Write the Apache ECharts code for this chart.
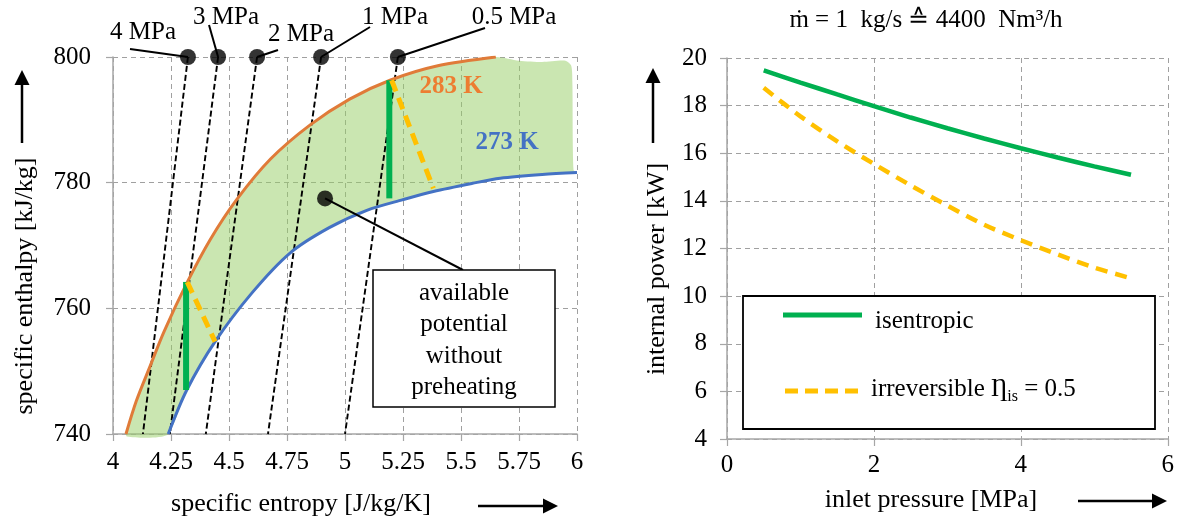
<!DOCTYPE html>
<html><head><meta charset="utf-8">
<script src="https://cdn.jsdelivr.net/npm/echarts@6/dist/echarts.min.js"></script>
<style>html,body{margin:0;padding:0;background:#fff}#c{width:1177px;height:523px}</style>
</head><body><div id="c"></div>
<script>
const FONT = '"Liberation Serif","Times New Roman",serif';

// ---------- left chart: h-s diagram ----------
const curve283 = [[4.056,740],[4.10,745.2],[4.16,750.8],[4.22,756.3],[4.318,764.0],[4.42,771.0],[4.533,777.3],[4.68,783.8],[4.85,789.2],[5.02,793.3],[5.194,796.3],[5.40,798.6],[5.65,800]];
const curve273 = [[4.238,740],[4.318,747.0],[4.44,754.7],[4.60,762.5],[4.763,768.8],[4.93,772.8],[5.094,775.6],[5.25,777.3],[5.381,778.6],[5.55,779.9],[5.669,780.7],[5.85,781.3],[6.0,781.6]];
const fillTopRight = [[5.75,799.4],[5.85,799.2],[5.95,799.4],[5.975,798.6],[5.98,796],[5.985,782]];
const fillBottomLeft = [[4.15,739.4],[4.06,739.6]];
const isobarNames = ['4 MPa','3 MPa','2 MPa','1 MPa','0.5 MPa'];
const isobarTopS = [4.323,4.453,4.621,4.897,5.228];
const isobarBottomS = [4.129,4.245,4.400,4.668,5.000];
const isobarTopH = 800, isobarBottomH = 740;
const isentropicLow = [[4.315,764.2],[4.315,747.0]];
const isentropicHigh = [[5.191,796.3],[5.191,777.5]];
const irreversibleLow = [[4.320,764.2],[4.440,754.7]];
const irreversibleHigh = [[5.201,796.3],[5.381,779.1]];
const potentialDot = [4.914,777.5];
const potentialText = ['available','potential','without','preheating'];

// ---------- right chart: power vs pressure ----------
const inletPressure = [0.5,1,1.5,2,2.5,3,3.5,4,4.5,5,5.5];
const powerIsentropic = [19.48,18.97,18.47,17.98,17.50,17.05,16.62,16.21,15.82,15.45,15.10];
const powerIrreversible = [18.75,17.55,16.50,15.55,14.65,13.80,13.00,12.35,11.75,11.20,10.75];

const leftX = {min:4,max:6,interval:0.25};
const leftY = {min:740,max:800,interval:20};
const rightX = {min:0,max:6,interval:2};
const rightY = {min:4,max:20,interval:2};

const GREEN = '#00B050', YELLOW = '#FFC000', ORANGE = '#E07B39', BLUE = '#4472C4';

function axisCommon(lblMargin){
  return {
    axisLine:{show:true,onZero:false,lineStyle:{color:'#A6A6A6',width:1.5}},
    axisTick:{show:true,length:7,lineStyle:{color:'#A6A6A6',width:1.2}},
    splitLine:{show:true,lineStyle:{color:'#A0A0A0',type:[5,4],width:1}},
    axisLabel:{color:'#000',fontFamily:FONT,fontSize:25,margin:lblMargin}
  };
}

const chart = echarts.init(document.getElementById('c'),null,{renderer:'canvas'});

const series = [];
// fill polygon
series.push({
  type:'custom', xAxisIndex:0, yAxisIndex:0, data:[0], z:1, silent:true,
  renderItem:(params, api) => {
    const poly = [...curve283, ...fillTopRight, ...curve273.slice().reverse(), ...fillBottomLeft];
    return {type:'polygon', shape:{points: poly.map(p => api.coord(p)), smooth:0.25},
            style:{fill:'rgba(150,205,100,0.5)'}};
  }
});
// isobars
isobarNames.forEach((n,i)=>{
  series.push({type:'line', xAxisIndex:0, yAxisIndex:0, z:3, symbol:'none', silent:true,
    data:[[isobarTopS[i],isobarTopH],[isobarBottomS[i],isobarBottomH]],
    lineStyle:{color:'#000',width:1.9,type:[6,3]}});
});
series.push({type:'line', name:'283 K', xAxisIndex:0, yAxisIndex:0, z:4, symbol:'none', smooth:0.3, data:curve283, lineStyle:{color:ORANGE,width:3}});
series.push({type:'line', name:'273 K', xAxisIndex:0, yAxisIndex:0, z:4, symbol:'none', smooth:0.3, data:curve273, lineStyle:{color:BLUE,width:3}});
[isentropicLow, isentropicHigh].forEach(d=>series.push({type:'line', xAxisIndex:0, yAxisIndex:0, z:5, symbol:'none', data:d, lineStyle:{color:GREEN,width:6}}));
[irreversibleLow, irreversibleHigh].forEach(d=>series.push({type:'line', xAxisIndex:0, yAxisIndex:0, z:5, symbol:'none', data:d, lineStyle:{color:YELLOW,width:5,type:[12,7]}}));
series.push({type:'scatter', xAxisIndex:0, yAxisIndex:0, z:8, clip:false, symbolSize:16, itemStyle:{color:'#000'},
  data:[...isobarTopS.map(s=>[s,isobarTopH]), potentialDot]});
// right chart
series.push({type:'line', name:'isentropic', xAxisIndex:1, yAxisIndex:1, symbol:'none', smooth:0.3,
  data:inletPressure.map((p,i)=>[p,powerIsentropic[i]]), lineStyle:{color:GREEN,width:4.5}});
series.push({type:'line', name:'irreversible', xAxisIndex:1, yAxisIndex:1, symbol:'none', smooth:0.3,
  data:inletPressure.map((p,i)=>[p,powerIrreversible[i]]), lineStyle:{color:YELLOW,width:4.5,type:[12,8]}});

const option = {
  backgroundColor:'#fff',
  animation:false,
  grid:[
    {left:113, top:57, width:464, height:377},
    {left:727, top:58, width:442, height:381}
  ],
  xAxis:[
    Object.assign({type:'value', gridIndex:0}, leftX, axisCommon(16)),
    Object.assign({type:'value', gridIndex:1}, rightX, axisCommon(14))
  ],
  yAxis:[
    Object.assign({type:'value', gridIndex:0}, leftY, axisCommon(22)),
    Object.assign({type:'value', gridIndex:1}, rightY, axisCommon(20))
  ],
  series
};
chart.setOption(option);

// ---------- annotations ----------
const px = p => chart.convertToPixel({xAxisIndex:0, yAxisIndex:0}, p);
const T = (text, x, y, opt={}) => ({type:'text', x, y, z:20, rotation:opt.rotation||0,
  style:{text, fill:opt.fill||'#000', font:(opt.weight||'normal')+' '+(opt.size||25)+'px '+FONT,
  textAlign:opt.align||'center', textVerticalAlign:'middle', align:opt.align||'center', verticalAlign:'middle'}});
const L = (x1,y1,x2,y2,stroke,w,dash) => ({type:'line', z:15, shape:{x1,y1,x2,y2}, style:{stroke, lineWidth:w, lineDash:dash||null}});
const arrowUp = (x, yTip, yBase) => [L(x,yBase,x,yTip+12,'#000',2.5),
  {type:'polygon', z:15, shape:{points:[[x,yTip],[x-7.5,yTip+15],[x+7.5,yTip+15]]}, style:{fill:'#000'}}];
const arrowRight = (x1, xTip, y) => [L(x1,y,xTip-12,y,'#000',2.5),
  {type:'polygon', z:15, shape:{points:[[xTip,y],[xTip-15,y-7.5],[xTip-15,y+7.5]]}, style:{fill:'#000'}}];

const labelPos = [[143,32],[226,17],[301,34],[395,17],[514,17]];
const leaderStart = [[130,49],[209,25],[278,50],[370,27],[485,28]];
const g = [];
isobarNames.forEach((n,i)=>{
  const d = px([isobarTopS[i], isobarTopH]);
  g.push(L(leaderStart[i][0], leaderStart[i][1], d[0], d[1], '#000', 2));
  g.push(T(n, labelPos[i][0], labelPos[i][1]));
});
g.push(T('283 K', 451, 87, {fill:'#ED7D31', weight:'bold'}));
g.push(T('273 K', 507, 143, {fill:BLUE, weight:'bold'}));
// potential box
const dp = px(potentialDot);
g.push(L(463,270,dp[0],dp[1],'#000',2));
g.push({type:'rect', z:16, shape:{x:373,y:270,width:182,height:137}, style:{fill:'#fff',stroke:'#000',lineWidth:1.5}});
potentialText.forEach((t,i)=>g.push(T(t, 464, 293+i*31.5)));
// axis titles
g.push(T('specific entropy [J/kg/K]', 301, 504, {size:26}));
g.push(...arrowRight(478, 558, 506));
g.push(T('specific enthalpy [kJ/kg]', 25, 286, {size:26, rotation:Math.PI/2}));
g.push(...arrowUp(22, 70, 143));
g.push(T('inlet pressure [MPa]', 931, 500, {size:26}));
g.push(...arrowRight(1078, 1167, 501));
g.push(T('internal power [kW]', 657, 269, {size:26, rotation:Math.PI/2}));
g.push(...arrowUp(653, 68, 143));
// title
g.push(T('ṁ = 1  kg/s ≙ 4400  Nm³/h', 926, 20, {size:25}));
// legend box (right)
g.push({type:'rect', z:16, shape:{x:743,y:296,width:412,height:133}, style:{fill:'#fff',stroke:'#000',lineWidth:1.8}});
g.push(Object.assign(L(783,315,862,315,GREEN,5),{z:17}));
g.push(Object.assign(L(785,391,863,391,YELLOW,5,[13,7]),{z:17}));
g.push(T('isentropic', 875, 321, {align:'left'}));
// irreversible label with subscript
const ctx = document.createElement('canvas').getContext('2d');
ctx.font = '25px ' + FONT;
const part1 = 'irreversible Ƞ';
const w1 = ctx.measureText(part1).width;
ctx.font = '16px ' + FONT;
const w2 = ctx.measureText('is').width;
g.push(T(part1, 871, 389, {align:'left'}));
g.push(T('is', 871 + w1, 397, {align:'left', size:16}));
g.push(T(' = 0.5', 871 + w1 + w2, 389, {align:'left'}));

chart.setOption({graphic:{elements:g}});
</script>
</body></html>
